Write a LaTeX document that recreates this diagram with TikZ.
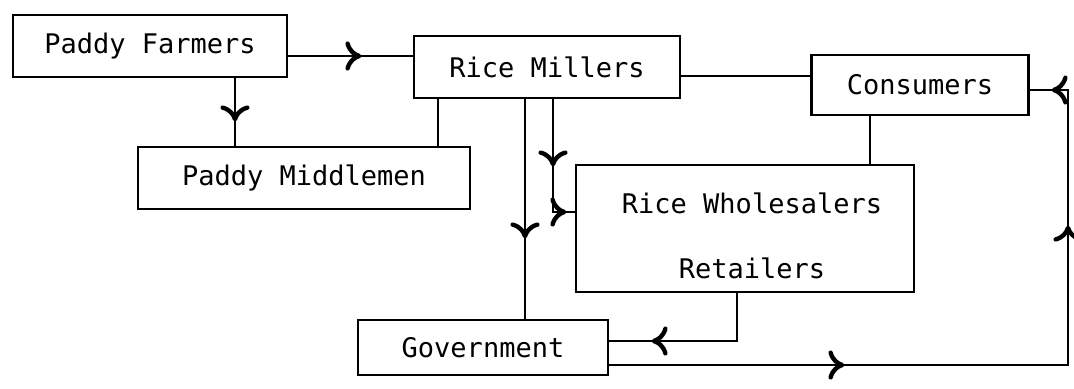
\documentclass[tikz,border=0pt]{standalone}
\usepackage{fontspec}
\newfontfamily\diagfont{DejaVu Sans Mono}
\usetikzlibrary{arrows.meta,decorations.markings}
\tikzset{
  box/.style={draw, line width=1.4pt, inner sep=0pt, font=\diagfont\fontsize{13.5}{16}\selectfont},
  conn/.style={line width=1.4pt},
  myTip/.tip={Computer Modern Rightarrow[length=8pt,width=14.5pt,line width=2.2pt]},
  arrowat/.style={postaction={decorate},decoration={markings,mark=at position #1 with {\arrow{myTip}}}},
  twoarrows/.style n args={2}{postaction={decorate},decoration={markings,
      mark=at position #1 with {\arrow{myTip}},
      mark=at position #2 with {\arrow{myTip}}}},
  threearrows/.style n args={3}{postaction={decorate},decoration={markings,
      mark=at position #1 with {\arrow{myTip}},
      mark=at position #2 with {\arrow{myTip}},
      mark=at position #3 with {\arrow{myTip}}}},
}
\begin{document}
\begin{tikzpicture}[x=0.5pt,y=-0.5pt]
\useasboundingbox (0,0) rectangle (1074,388);
% boxes
\node[box, minimum width=137pt, minimum height=31pt] (pf) at (150,46) {Paddy Farmers};
\node[box, minimum width=133pt, minimum height=31pt] (rm) at (547,67) {Rice Millers};
\node[box, minimum width=108.5pt, minimum height=30pt] (cons) at (920,85) {Consumers};
\node[box, minimum width=166pt, minimum height=31pt] (pm) at (304,178) {Paddy Middlemen};
\node[box, minimum width=169pt, minimum height=63.5pt] (rwr) at (745,228.5) {};
\node[align=center, inner sep=0pt, font=\diagfont\fontsize{13.5}{32.5}\selectfont] (rwrtext) at (752,236) {Rice Wholesalers\\Retailers};
\node[box, minimum width=125pt, minimum height=27.5pt] (gov) at (483,347.5) {Government};
% helper coordinates
\coordinate (ya) at (0,56);
\coordinate (yb) at (0,76);
\coordinate (x235) at (235,0);
\coordinate (x438) at (438,0);
\coordinate (x525) at (525,0);
\coordinate (x553) at (553,0);
\coordinate (x870) at (870,0);
\coordinate (x737) at (737,0);
\coordinate (turnA) at (553,212);
\coordinate (turnB) at (737,341);
\coordinate (loopA) at (1068,365);
\coordinate (loopB) at (1068,90);
% connectors
\draw[conn, arrowat=36.5pt] (pf.east |- ya) -- (rm.west |- ya);
\draw[conn] (rm.east |- yb) -- (cons.west |- yb);
\draw[conn, arrowat=21.5pt] (pf.south -| x235) -- (pm.north -| x235);
\draw[conn] (rm.south -| x438) -- (pm.north -| x438);
\draw[conn, arrowat=69.5pt] (rm.south -| x525) -- (gov.north -| x525);
\draw[conn, twoarrows={33.5pt}{63pt}] (rm.south -| x553) -- (turnA) -- (rwr.west |- turnA);
\draw[conn] (cons.south -| x870) -- (rwr.north -| x870);
\draw[conn, arrowat=66.5pt] (rwr.south -| x737) -- (turnB) -- (gov.east |- turnB);
\draw[conn, threearrows={117.5pt}{299pt}{375pt}] (gov.east |- loopA) -- (loopA) -- (loopB) -- (cons.east |- loopB);
\end{tikzpicture}
\end{document}
